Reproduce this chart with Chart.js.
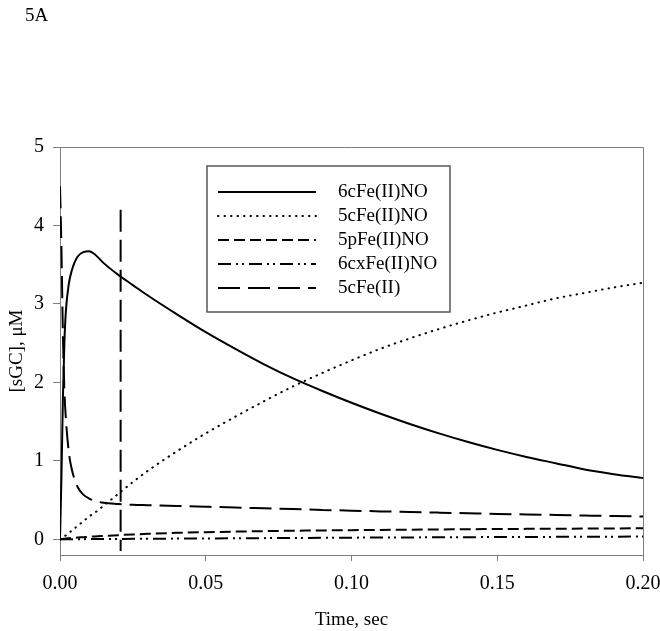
<!DOCTYPE html>
<html>
<head>
<meta charset="utf-8">
<script src="https://cdn.jsdelivr.net/npm/chart.js@4.4.1/dist/chart.umd.min.js"></script>
<style>
  html, body { margin: 0; padding: 0; background: #fff; }
  #wrap { position: relative; width: 660px; height: 631px; }
  #tag { position: absolute; left: 25px; top: 4px; font: 19px "Liberation Serif", "Times New Roman", serif; color: #000; }
</style>
</head>
<body>
<div id="wrap">
  <div id="tag">5A</div>
  <canvas id="chart" width="660" height="631"></canvas>
</div>
<script>
// time points (sec)
const time = [0, 0.0005, 0.001, 0.0015, 0.002, 0.003, 0.004, 0.006, 0.008, 0.01, 0.012, 0.015,
  0.02, 0.025, 0.03, 0.04, 0.05, 0.06, 0.07, 0.08, 0.09, 0.10, 0.11, 0.12, 0.13, 0.14,
  0.15, 0.16, 0.17, 0.18, 0.19, 0.20];

// [sGC] species, uM
const s6cFeNO = [0, 0.8, 1.8, 2.5, 2.9, 3.25, 3.42, 3.6, 3.66, 3.67, 3.63, 3.52,
  3.37, 3.24, 3.11, 2.87, 2.64, 2.43, 2.23, 2.05, 1.89, 1.74, 1.60, 1.47, 1.35, 1.24,
  1.14, 1.05, 0.97, 0.89, 0.83, 0.78];
const s5cFeNO = [0, 0.01, 0.03, 0.04, 0.05, 0.08, 0.11, 0.17, 0.23, 0.29, 0.34, 0.43,
  0.58, 0.73, 0.87, 1.12, 1.35, 1.56, 1.76, 1.95, 2.12, 2.28, 2.43, 2.56, 2.68, 2.79,
  2.89, 2.98, 3.07, 3.14, 3.21, 3.27];
const s5pFeNO = [0, 0, 0.005, 0.007, 0.01, 0.013, 0.016, 0.022, 0.027, 0.032, 0.037, 0.043,
  0.053, 0.062, 0.07, 0.082, 0.091, 0.098, 0.104, 0.109, 0.113, 0.117, 0.12, 0.123, 0.126, 0.129,
  0.131, 0.133, 0.135, 0.137, 0.139, 0.14];
const s6cxFeNO = [0, 0, 0, 0, 0, 0.001, 0.001, 0.002, 0.002, 0.003, 0.003, 0.004,
  0.005, 0.006, 0.007, 0.009, 0.011, 0.013, 0.015, 0.017, 0.019, 0.021, 0.023, 0.024, 0.026, 0.027,
  0.029, 0.030, 0.031, 0.033, 0.034, 0.035];
const s5cFe = [4.5, 3.7, 2.6, 1.9, 1.55, 1.12, 0.9, 0.67, 0.57, 0.52, 0.49, 0.465,
  0.45, 0.44, 0.435, 0.425, 0.415, 0.405, 0.395, 0.385, 0.375, 0.365, 0.356, 0.348, 0.34, 0.332,
  0.324, 0.317, 0.31, 0.303, 0.296, 0.29];

// vertical marker line
const markerTime = [0.0208, 0.0208];
const markerValue = [4.2, -0.15];

const seriesNames = ['6cFe(II)NO', '5cFe(II)NO', '5pFe(II)NO', '6cxFe(II)NO', '5cFe(II)'];
const xTickValues = [0, 0.05, 0.10, 0.15, 0.20];
const yTickValues = [0, 1, 2, 3, 4, 5];

const serif = '"Liberation Serif", "Times New Roman", serif';
const axisGray = '#7f7f7f';

const pts = (xs, ys) => xs.map((x, i) => ({ x: x, y: ys[i] }));

const styles = [
  { dash: [], cap: 'butt' },
  { dash: [0.5, 6], cap: 'round' },
  { dash: [11, 5], cap: 'butt' },
  { dash: [13, 5, 2, 4, 2, 5], cap: 'butt' },
  { dash: [22, 8], cap: 'butt' }
];
const values = [s6cFeNO, s5cFeNO, s5pFeNO, s6cxFeNO, s5cFe];

const datasets = seriesNames.map((name, i) => ({
  label: name,
  data: pts(time, values[i]),
  borderColor: '#000',
  borderWidth: 2,
  borderDash: styles[i].dash,
  borderCapStyle: styles[i].cap,
  pointRadius: 0,
  cubicInterpolationMode: 'monotone',
  fill: false
}));
datasets.push({
  label: 'marker',
  data: pts(markerTime, markerValue),
  borderColor: '#000',
  borderWidth: 2,
  borderDash: [22, 8],
  pointRadius: 0,
  fill: false
});

const framePlugin = {
  id: 'frame',
  afterDraw(chart) {
    const { ctx, chartArea: a } = chart;
    ctx.save();
    ctx.strokeStyle = axisGray;
    ctx.lineWidth = 1;
    ctx.beginPath();
    ctx.moveTo(a.left, a.top + 0.5);
    ctx.lineTo(a.right + 0.5, a.top + 0.5);
    ctx.lineTo(a.right + 0.5, a.bottom);
    ctx.stroke();
    ctx.restore();
  }
};

const boxLegend = {
  id: 'boxLegend',
  afterDatasetsDraw(chart) {
    const { ctx, chartArea: a } = chart;
    const x0 = a.left + 147, y0 = a.top + 19, w = 243, h = 146;
    ctx.save();
    ctx.fillStyle = '#fff';
    ctx.fillRect(x0, y0, w, h);
    ctx.strokeStyle = '#555';
    ctx.lineWidth = 1.5;
    ctx.strokeRect(x0, y0, w, h);
    ctx.font = '19px ' + serif;
    ctx.textBaseline = 'middle';
    ctx.fillStyle = '#000';
    seriesNames.forEach((name, i) => {
      const ds = chart.data.datasets[i];
      const y = y0 + 26 + i * 24;
      ctx.beginPath();
      ctx.setLineDash(ds.borderDash);
      ctx.lineCap = ds.borderCapStyle;
      ctx.lineWidth = 2;
      ctx.strokeStyle = '#000';
      ctx.moveTo(x0 + 11, y);
      ctx.lineTo(x0 + 109, y);
      ctx.stroke();
      ctx.setLineDash([]);
      ctx.fillText(name, x0 + 131, y);
    });
    ctx.restore();
  }
};

new Chart(document.getElementById('chart').getContext('2d'), {
  type: 'line',
  data: { datasets: datasets },
  plugins: [framePlugin, boxLegend],
  options: {
    responsive: false,
    animation: false,
    layout: { padding: { top: 147, right: 17, left: 0, bottom: 0 } },
    plugins: { legend: { display: false }, tooltip: { enabled: false } },
    scales: {
      x: {
        type: 'linear',
        min: 0,
        max: 0.2,
        afterBuildTicks: (s) => { s.ticks = xTickValues.map(v => ({ value: v })); },
        afterFit: (s) => { s.height = 76; s.paddingLeft = 0; s.paddingRight = 0; },
        border: { display: true, color: axisGray, width: 1 },
        grid: { drawOnChartArea: false, drawTicks: true, tickLength: 6, color: axisGray },
        ticks: { color: '#000', font: { family: serif, size: 20 }, padding: 11, maxRotation: 0,
          callback: (v) => Number(v).toFixed(2) },
        title: { display: true, text: 'Time, sec', color: '#000', font: { family: serif, size: 19 },
          padding: { top: 0, bottom: 0 } }
      },
      y: {
        type: 'linear',
        min: -0.2,
        max: 5,
        afterBuildTicks: (s) => { s.ticks = yTickValues.map(v => ({ value: v })); },
        afterFit: (s) => { s.width = 60; s.paddingTop = 0; s.paddingBottom = 0; },
        border: { display: true, color: axisGray, width: 1 },
        grid: { drawOnChartArea: false, drawTicks: true, tickLength: 7, color: axisGray },
        ticks: { color: '#000', font: { family: serif, size: 20 }, padding: 9 },
        title: { display: true, text: '[sGC], μM', color: '#000', font: { family: serif, size: 19 },
          padding: { top: 6, bottom: 0 } }
      }
    }
  }
});
</script>
</body>
</html>
